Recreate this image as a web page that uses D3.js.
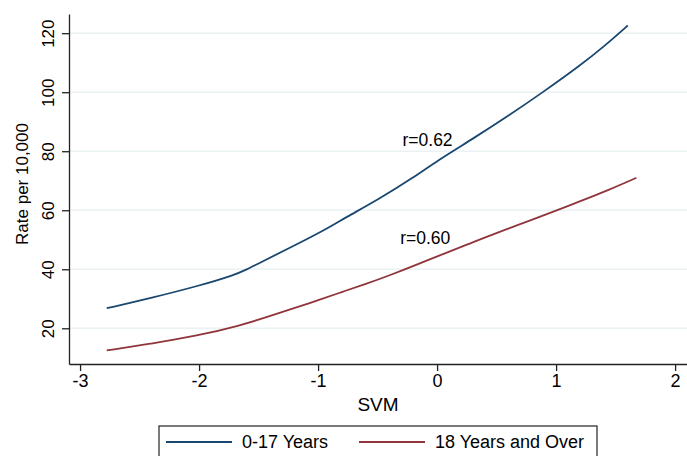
<!DOCTYPE html>
<html><head><meta charset="utf-8">
<script src="https://cdn.jsdelivr.net/npm/d3@7"></script>
<style>body{margin:0;background:#fff}svg{display:block;font-family:"Liberation Sans",Arial,sans-serif}</style>
</head><body><svg id="c" width="687" height="456"></svg>
<script>
const svmYouth = [-2.776,-2.4,-2.0,-1.7,-1.6,-1.5,-1.2,-0.9,-0.78,-0.5,-0.2,0.0,0.3,0.6,0.9,1.2,1.4,1.602];
const rateYouth = [26.8,30.3,34.4,38.1,39.9,42.0,48.0,54.3,57.3,63.5,71.0,76.8,84.2,92.0,100.3,109.0,115.4,122.6];
const svmAdult = [-2.776,-2.4,-2.034,-1.655,-1.4,-1.193,-1.0,-0.8,-0.6,-0.395,-0.18,0.025,0.25,0.445,0.7,0.908,1.2,1.45,1.675];
const rateAdult = [12.5,14.8,17.3,20.9,24.2,26.9,29.5,32.3,35.0,38.0,41.4,44.8,48.3,51.5,55.3,58.5,63.0,67.0,71.0];
const xTicks = [-3,-2,-1,0,1,2];
const yTicks = [20,40,60,80,100,120];
const seriesNames = ["0-17 Years","18 Years and Over"];
const seriesColors = ["#1a476f","#90353b"];
const annotations = [{x:-0.08,y:83.8,t:"r=0.62"},{x:-0.10,y:50.6,t:"r=0.60"}];

const svg = d3.select("#c");
const x = d3.scaleLinear().domain([-3.093,2.1]).range([69,687]);
const y = d3.scaleLinear().domain([7.9,126.5]).range([364,14]);

svg.append("g").selectAll("line").data(yTicks).join("line")
  .attr("x1",70).attr("x2",687).attr("y1",d=>y(d)).attr("y2",d=>y(d))
  .attr("stroke","#eaf2f3").attr("stroke-width",1.6);

const yAxis = svg.append("g").attr("transform","translate(69,0)")
  .call(d3.axisLeft(y).tickValues(yTicks).tickSize(7).tickSizeOuter(0));
yAxis.select(".domain").attr("stroke","#222").attr("stroke-width",1.3);
yAxis.selectAll(".tick line").attr("stroke","#222").attr("stroke-width",1.3);
yAxis.selectAll(".tick text").attr("font-size",17).attr("fill","#000")
  .attr("text-anchor","middle").attr("x",0).attr("y",0).attr("dy","0.35em")
  .attr("transform","translate(-21,0) rotate(-90)");

const xAxis = svg.append("g").attr("transform","translate(0,364)")
  .call(d3.axisBottom(x).tickValues(xTicks).tickSize(7).tickPadding(3).tickSizeOuter(0));
xAxis.select(".domain").attr("stroke","#222").attr("stroke-width",1.3);
xAxis.selectAll(".tick line").attr("stroke","#222").attr("stroke-width",1.3);
xAxis.selectAll(".tick text").attr("font-size",18).attr("fill","#000").text(d=>d<0?"-"+Math.abs(d):d);

svg.append("text").attr("transform","translate(28,184) rotate(-90)").attr("text-anchor","middle")
  .attr("font-size",17).text("Rate per 10,000");
svg.append("text").attr("x",378).attr("y",411).attr("text-anchor","middle").attr("font-size",19).text("SVM");

const line = d3.line().x(d=>x(d[0])).y(d=>y(d[1])).curve(d3.curveBasis);
const data = [d3.zip(svmYouth,rateYouth), d3.zip(svmAdult,rateAdult)];
svg.append("g").selectAll("path").data(data).join("path")
  .attr("d",line).attr("fill","none").attr("stroke",(d,i)=>seriesColors[i]).attr("stroke-width",1.8);

svg.append("g").selectAll("text").data(annotations).join("text")
  .attr("x",d=>x(d.x)).attr("y",d=>y(d.y)).attr("text-anchor","middle").attr("dy","0.35em")
  .attr("font-size",17.5).text(d=>d.t);

const lg = svg.append("g");
lg.append("rect").attr("x",159).attr("y",426).attr("width",438).attr("height",40)
  .attr("fill","#fff").attr("stroke","#222").attr("stroke-width",1.2);
const lx = [166,359];
seriesNames.forEach((n,i)=>{
  lg.append("line").attr("x1",lx[i]).attr("x2",lx[i]+66).attr("y1",442).attr("y2",442)
    .attr("stroke",seriesColors[i]).attr("stroke-width",1.8);
  lg.append("text").attr("x",lx[i]+76).attr("y",442).attr("dy","0.35em").attr("font-size",18).text(n);
});
</script></body></html>
